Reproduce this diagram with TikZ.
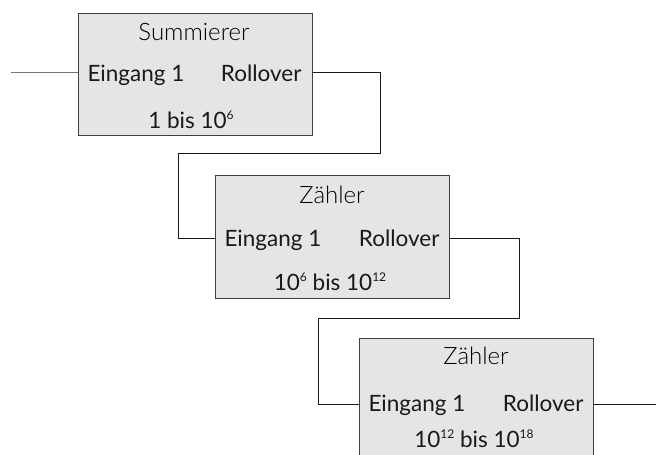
\documentclass[tikz,border=0pt]{standalone}
\usepackage{fontspec}
\setmainfont{Lato}
\newfontfamily\lightfont{Lato Light}
\tikzset{
  blockbox/.style={draw=black!75, fill=black!10, line width=0.9pt, minimum width=234pt, minimum height=122.5pt, inner sep=0pt, anchor=north west},
  title/.style={font=\fontsize{24}{28}\selectfont\lightfont, text=black, anchor=base},
  lbl/.style={font=\fontsize{22.5}{26}\selectfont, text=black!90, anchor=base},
  wire/.style={draw=black!90, line width=0.8pt},
  graywire/.style={draw=black!55, line width=1.2pt}
}
\newcommand{\sx}[1]{\raisebox{0.36em}{\fontsize{12}{14}\selectfont #1}}
\begin{document}
\begin{tikzpicture}[x=1pt,y=-1pt]
\useasboundingbox (0,0) rectangle (656,455);
% boxes
\node[blockbox] (b1) at (78,12.5) {};
\node[blockbox] (b2) at (215,175) {};
\node[blockbox] (b3) at (359,338) {};
% texts box 1
\node[title] (t1) at (194,40) {Summierer};
\node[lbl, anchor=base west] (e1) at (84,81) {Eingang 1};
\node[lbl, anchor=base east] (r1) at (305,81) {Rollover};
\node[lbl] (n1) at (191,128) {1 bis 10\sx{6}};
% texts box 2
\node[title] (t2) at (332,203) {Zähler};
\node[lbl, anchor=base west] (e2) at (221,246) {Eingang 1};
\node[lbl, anchor=base east] (r2) at (443,246) {Rollover};
\node[lbl] (n2) at (330,290) {10\sx{6} bis 10\sx{12}};
% texts box 3
\node[title] (t3) at (476,364) {Zähler};
\node[lbl, anchor=base west] (e3) at (365,411) {Eingang 1};
\node[lbl, anchor=base east] (r3) at (587,411) {Rollover};
\node[lbl] (n3) at (474,447) {10\sx{12} bis 10\sx{18}};
% ports
\coordinate (in1) at (b1.north west |- 0,72.5);
\coordinate (out1) at (b1.north east |- 0,72.5);
\coordinate (in2) at (b2.north west |- 0,238);
\coordinate (out2) at (b2.north east |- 0,238);
\coordinate (in3) at (b3.north west |- 0,404);
\coordinate (out3) at (b3.north east |- 0,404);
\coordinate (src) at (11,72.5);
\coordinate (dst) at (656,404);
% wires
\draw[graywire] (src) -- (in1);
\draw[wire] (out1) -| (380,153) -| (178,238) -- (in2);
\draw[wire] (out2) -| (519,318) -| (318,404) -- (in3);
\draw[wire] (out3) -- (dst);
\end{tikzpicture}
\end{document}
